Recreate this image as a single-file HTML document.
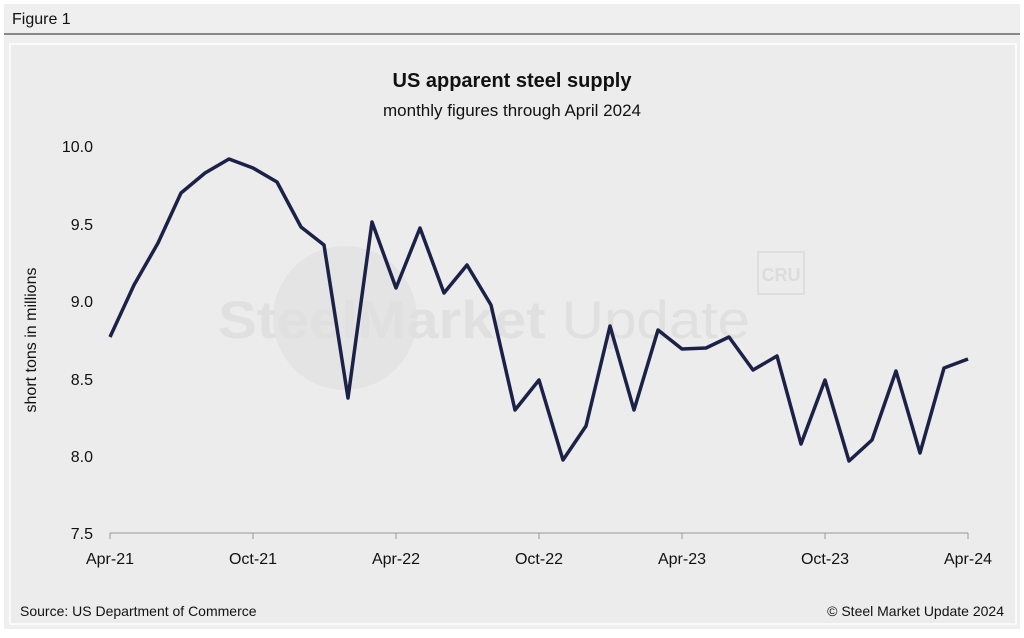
<!DOCTYPE html>
<html><head><meta charset="utf-8"><style>
body{margin:0;width:1024px;height:633px;background:#fff;font-family:"Liberation Sans",sans-serif;overflow:hidden}
</style></head><body>
<svg width="1024" height="633" xmlns="http://www.w3.org/2000/svg" font-family="Liberation Sans, sans-serif">
<rect x="0" y="0" width="1024" height="633" fill="#ffffff"/>
<rect x="4" y="4" width="1016" height="625" fill="#efefef"/>
<text x="12" y="24" font-size="16" fill="#111">Figure 1</text>
<line x1="4" y1="34" x2="1020" y2="34" stroke="#222" stroke-width="1"/>
<rect x="10" y="44" width="1006" height="580" fill="#ececec" stroke="#fff" stroke-width="1.5"/>
<text x="512" y="87" font-size="20" font-weight="bold" text-anchor="middle" fill="#111">US apparent steel supply</text>
<text x="512" y="116" font-size="17" text-anchor="middle" fill="#111">monthly figures through April 2024</text>
<circle cx="345" cy="318" r="72" fill="#e4e4e4"/>
<text x="484" y="338" font-size="53" font-weight="bold" text-anchor="middle" fill="#e0e0e0" textLength="532" lengthAdjust="spacingAndGlyphs">SteelMarket <tspan font-weight="normal">Update</tspan></text>
<rect x="758" y="252" width="46" height="42" fill="none" stroke="#dedede" stroke-width="2"/>
<text x="781" y="281" font-size="18" font-weight="bold" text-anchor="middle" fill="#dcdcdc">CRU</text>
<g font-size="16" fill="#111" text-anchor="end">
<text x="93" y="152">10.0</text><text x="93" y="230">9.5</text><text x="93" y="307">9.0</text>
<text x="93" y="385">8.5</text><text x="93" y="462">8.0</text><text x="93" y="539">7.5</text>
</g>
<text transform="translate(36,340) rotate(-90)" font-size="16" text-anchor="middle" fill="#111">short tons in millions</text>
<line x1="110" y1="533" x2="968" y2="533" stroke="#999" stroke-width="1"/>
<g stroke="#999">
<line x1="110" y1="533" x2="110" y2="539"/><line x1="253" y1="533" x2="253" y2="539"/><line x1="396" y1="533" x2="396" y2="539"/>
<line x1="539" y1="533" x2="539" y2="539"/><line x1="682" y1="533" x2="682" y2="539"/><line x1="825" y1="533" x2="825" y2="539"/><line x1="968" y1="533" x2="968" y2="539"/>
</g>
<g font-size="16" fill="#111" text-anchor="middle">
<text x="110" y="564">Apr-21</text><text x="253" y="564">Oct-21</text><text x="396" y="564">Apr-22</text>
<text x="539" y="564">Oct-22</text><text x="682" y="564">Apr-23</text><text x="825" y="564">Oct-23</text><text x="968" y="564">Apr-24</text>
</g>
<polyline fill="none" stroke="#1c2147" stroke-width="3.5" stroke-linejoin="round" points="110,337 134,285 158,243 181,193 205,173 229,159 253,168 277,182 301,227 324,245 348,398 372,222 396,288 420,228 444,293 467,265 491,305 515,410 539,380 563,460 586,426 610,326 634,410 658,330 682,349 706,348 729,337 753,370 777,356 801,444 825,380 849,461 872,440 896,371 920,453 944,368 968,359"/>
<text x="20" y="616" font-size="14" fill="#111">Source: US Department of Commerce</text>
<text x="1004" y="616" font-size="14" fill="#111" text-anchor="end">© Steel Market Update 2024</text>
</svg>
</body></html>
